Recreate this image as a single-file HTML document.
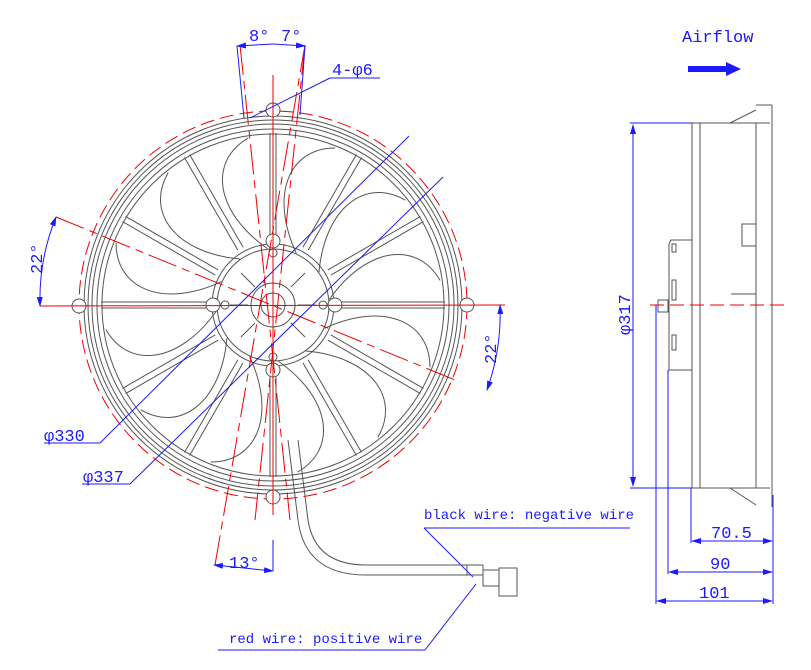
<!DOCTYPE html>
<html><head><meta charset="utf-8"><style>
html,body{margin:0;padding:0;background:#fff;}
svg{display:block;}
text{font-family:"Liberation Mono","DejaVu Sans Mono",monospace;fill:#1a1aff;}
</style></head><body>
<svg width="811" height="670" viewBox="0 0 811 670" xmlns="http://www.w3.org/2000/svg">
<defs>
<g id="spoke"><line x1="338" y1="302" x2="445" y2="302" stroke="#555" stroke-width="1"/><line x1="338" y1="308" x2="445" y2="308" stroke="#555" stroke-width="1"/></g>
<g id="blade"><path d="M326,285 C348,225 395,205 428,238" fill="none" stroke="#555" stroke-width="1"/></g>
<marker id="ar" markerWidth="10" markerHeight="6" refX="9" refY="3" orient="auto-start-reverse" markerUnits="userSpaceOnUse"><path d="M0,0 L10,3 L0,6 Z" fill="#1a1aff"/></marker>
</defs>
<g fill="none" stroke="#555" stroke-width="1">
<circle cx="273" cy="305" r="189"/>
<circle cx="273" cy="305" r="185"/>
<circle cx="273" cy="305" r="181"/>
<circle cx="273" cy="305" r="176"/>
<circle cx="273" cy="305" r="171"/>
<circle cx="273" cy="305" r="61"/>
<circle cx="273" cy="305" r="56"/>
<circle cx="273" cy="305" r="22"/>
<circle cx="273" cy="305" r="12"/>
</g>
<circle cx="273" cy="305" r="194" fill="none" stroke="#e00" stroke-width="1" stroke-dasharray="14,6"/>
<g>
<use href="#spoke"/>
<use href="#spoke" transform="rotate(30 273 305)"/>
<use href="#spoke" transform="rotate(60 273 305)"/>
<use href="#spoke" transform="rotate(90 273 305)"/>
<use href="#spoke" transform="rotate(120 273 305)"/>
<use href="#spoke" transform="rotate(150 273 305)"/>
<use href="#spoke" transform="rotate(180 273 305)"/>
<use href="#spoke" transform="rotate(210 273 305)"/>
<use href="#spoke" transform="rotate(240 273 305)"/>
<use href="#spoke" transform="rotate(270 273 305)"/>
<use href="#spoke" transform="rotate(300 273 305)"/>
<use href="#spoke" transform="rotate(330 273 305)"/>
</g>
<g>
<use href="#blade" transform="rotate(15 273 305)"/>
<use href="#blade" transform="rotate(45 273 305)"/>
<use href="#blade" transform="rotate(75 273 305)"/>
<use href="#blade" transform="rotate(105 273 305)"/>
<use href="#blade" transform="rotate(135 273 305)"/>
<use href="#blade" transform="rotate(165 273 305)"/>
<use href="#blade" transform="rotate(195 273 305)"/>
<use href="#blade" transform="rotate(225 273 305)"/>
<use href="#blade" transform="rotate(255 273 305)"/>
<use href="#blade" transform="rotate(285 273 305)"/>
<use href="#blade" transform="rotate(315 273 305)"/>
<use href="#blade" transform="rotate(345 273 305)"/>
</g>
<g stroke="#555" stroke-width="1">
<line x1="273" y1="280" x2="273" y2="262"/><line x1="273" y1="330" x2="273" y2="348"/>
<line x1="248" y1="305" x2="230" y2="305"/><line x1="298" y1="305" x2="316" y2="305"/>
<line x1="291" y1="287" x2="305" y2="273"/><line x1="255" y1="323" x2="241" y2="337"/>
<line x1="255" y1="287" x2="241" y2="273"/><line x1="291" y1="323" x2="305" y2="337"/>
</g>
<g fill="#fff" stroke="#555" stroke-width="1">
<circle cx="79" cy="306" r="7"/><circle cx="467" cy="305" r="7"/>
<circle cx="273" cy="110" r="7"/><circle cx="273" cy="497" r="7"/>
<circle cx="213" cy="305" r="7"/><circle cx="335" cy="305" r="7"/>
<circle cx="273" cy="241" r="7"/><circle cx="273" cy="370" r="7"/>
<circle cx="225" cy="305" r="4"/><circle cx="323" cy="305" r="4"/>
<circle cx="273" cy="253" r="4"/><circle cx="273" cy="357" r="4"/>
</g>
<g stroke="#e00" stroke-width="1" fill="none">
<line x1="40" y1="306" x2="505" y2="305"/>
<line x1="273" y1="75" x2="273" y2="515"/>
<line x1="56" y1="217" x2="460" y2="382" stroke-dasharray="30,6,8,6"/>
<line x1="240" y1="45" x2="290" y2="520" stroke-dasharray="30,6,8,6"/>
<line x1="305" y1="45" x2="255" y2="520" stroke-dasharray="30,6,8,6"/>
<line x1="215" y1="565" x2="305" y2="45" stroke-dasharray="30,6,8,6"/>
</g>
<g stroke="#1a1aff" stroke-width="1" fill="none">
<line x1="100" y1="443" x2="409" y2="136"/>
<line x1="44" y1="443" x2="100" y2="443"/>
<line x1="130" y1="484" x2="443" y2="177"/>
<line x1="82" y1="484" x2="130" y2="484"/>
<line x1="250" y1="118" x2="330" y2="78"/>
<line x1="330" y1="78" x2="380" y2="78"/>
<path d="M56,217 A220,220 0 0 0 40,306" marker-start="url(#ar)" marker-end="url(#ar)"/>
<path d="M500,305 A227,227 0 0 1 487,390" marker-start="url(#ar)" marker-end="url(#ar)"/>
<line x1="237" y1="46" x2="244" y2="118"/>
<line x1="305" y1="46" x2="300" y2="115"/>
<line x1="237" y1="46" x2="273" y2="44" marker-start="url(#ar)"/>
<line x1="273" y1="44" x2="305" y2="46" marker-end="url(#ar)"/>
<line x1="273" y1="540" x2="273" y2="571"/>
<line x1="214" y1="565" x2="273" y2="571" marker-start="url(#ar)" marker-end="url(#ar)"/>
<line x1="424" y1="528" x2="630" y2="528"/>
<line x1="424" y1="528" x2="473" y2="577"/>
<line x1="218" y1="650" x2="425" y2="650"/>
<line x1="425" y1="650" x2="476" y2="584"/>
</g>
<text x="249" y="41" font-size="17">8°</text>
<text x="281" y="41" font-size="17">7°</text>
<text x="332" y="75" font-size="17">4-φ6</text>
<text x="44" y="441" font-size="17">φ330</text>
<text x="83" y="482" font-size="17">φ337</text>
<text x="229" y="568" font-size="17">13°</text>
<text font-size="17" transform="translate(42,274) rotate(-90)">22°</text>
<text font-size="17" transform="translate(496,364) rotate(-90)">22°</text>
<text x="424" y="519" font-size="14">black wire: negative wire</text>
<text x="229" y="643" font-size="14">red wire: positive wire</text>
<g fill="none" stroke="#555" stroke-width="1">
<path d="M288,440 L298,520 Q305,575 366,575 L467,575"/>
<path d="M298,440 L308,520 Q315,565 366,565 L467,565"/>
<rect x="467" y="565" width="16" height="10"/>
<rect x="483" y="570" width="16" height="16"/>
<rect x="499" y="568" width="18" height="28"/>
</g>
<text x="682" y="42" font-size="17">Airflow</text>
<path d="M688,66 L726,66 L726,62 L741,69 L726,76 L726,72 L688,72 Z" fill="#1a1aff"/>
<g fill="none" stroke="#555" stroke-width="1">
<rect x="692" y="123" width="8" height="365"/>
<line x1="700" y1="123" x2="770" y2="123"/><line x1="700" y1="488" x2="770" y2="488"/>
<line x1="756" y1="123" x2="756" y2="488"/>
<line x1="772" y1="105" x2="772" y2="507"/>
<line x1="756" y1="105" x2="772" y2="105"/>
<line x1="730" y1="123" x2="756" y2="110"/>
<line x1="730" y1="488" x2="756" y2="505"/>
<rect x="742" y="224" width="14" height="22"/>
<path d="M692,240 L671,240 L669,244 L669,370 L692,370"/>
<rect x="672" y="244" width="4" height="8"/><rect x="672" y="280" width="4" height="20"/><rect x="672" y="335" width="4" height="15"/>
<rect x="658" y="300" width="10" height="12"/>
<line x1="731" y1="294" x2="756" y2="294"/>
</g>
<line x1="650" y1="305" x2="790" y2="305" stroke="#e00" stroke-dasharray="14,6"/>
<g stroke="#1a1aff" stroke-width="1" fill="none">
<line x1="630" y1="123" x2="692" y2="123"/><line x1="630" y1="488" x2="692" y2="488"/>
<line x1="633" y1="125" x2="633" y2="486" marker-start="url(#ar)" marker-end="url(#ar)"/>
<line x1="656" y1="305" x2="656" y2="604"/>
<line x1="668" y1="370" x2="668" y2="574"/>
<line x1="691" y1="488" x2="691" y2="543"/>
<line x1="773" y1="495" x2="773" y2="604"/>
<line x1="692" y1="541" x2="772" y2="541" marker-start="url(#ar)" marker-end="url(#ar)"/>
<line x1="669" y1="572" x2="772" y2="572" marker-start="url(#ar)" marker-end="url(#ar)"/>
<line x1="657" y1="601" x2="772" y2="601" marker-start="url(#ar)" marker-end="url(#ar)"/>
</g>
<text font-size="17" transform="translate(630,335) rotate(-90)">φ317</text>
<text x="711" y="538" font-size="17">70.5</text>
<text x="710" y="569" font-size="17">90</text>
<text x="699" y="598" font-size="17">101</text>
</svg>
</body></html>
